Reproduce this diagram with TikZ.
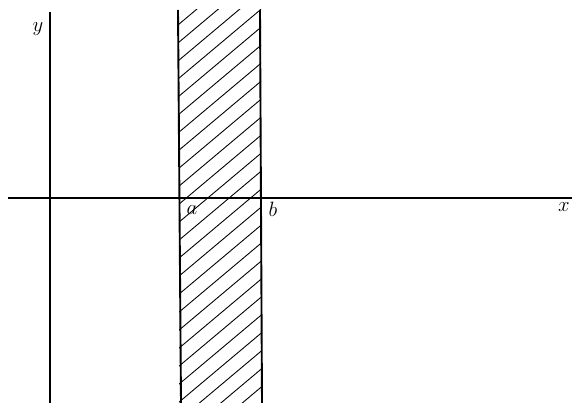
\documentclass[tikz,border=0pt]{standalone}
\begin{document}
\begin{tikzpicture}[x=1pt,y=-1pt,
  axis/.style={line width=1.2pt},
  edge/.style={line width=1.9pt},
  hatch/.style={line width=0.9pt},
  lbl/.style={font=\fontsize{21}{24}\selectfont, inner sep=0pt}]
\useasboundingbox (0,0) rectangle (576,403);
% hatching
\begin{scope}
\clip (179,10) rectangle (261,403);
\foreach \c in {138.5,156.5,...,800} {
  \draw[hatch] (100,\c-84) -- (400,\c-336);
}
\end{scope}
% axes
\coordinate (xl) at (8,198);
\coordinate (xr) at (572,198);
\coordinate (yt) at (50,12);
\coordinate (yb) at (50,403);
\draw[axis] (xl) -- (xr);
\draw[axis] (yt) -- (yb);
% strip edges
\coordinate (at) at (178,10);
\coordinate (ab) at (181,403);
\coordinate (bt) at (260,10);
\coordinate (bb) at (262,403);
\draw[edge] (at) -- (ab);
\draw[edge] (bt) -- (bb);
% labels
\node[lbl] (ylab) at (38,29) {$y$};
\node[lbl] (xlab) at (564,207) {$x$};
\node[lbl] (alab) at (192,210) {$a$};
\node[lbl] (blab) at (273,209) {$b$};
\end{tikzpicture}
\end{document}
